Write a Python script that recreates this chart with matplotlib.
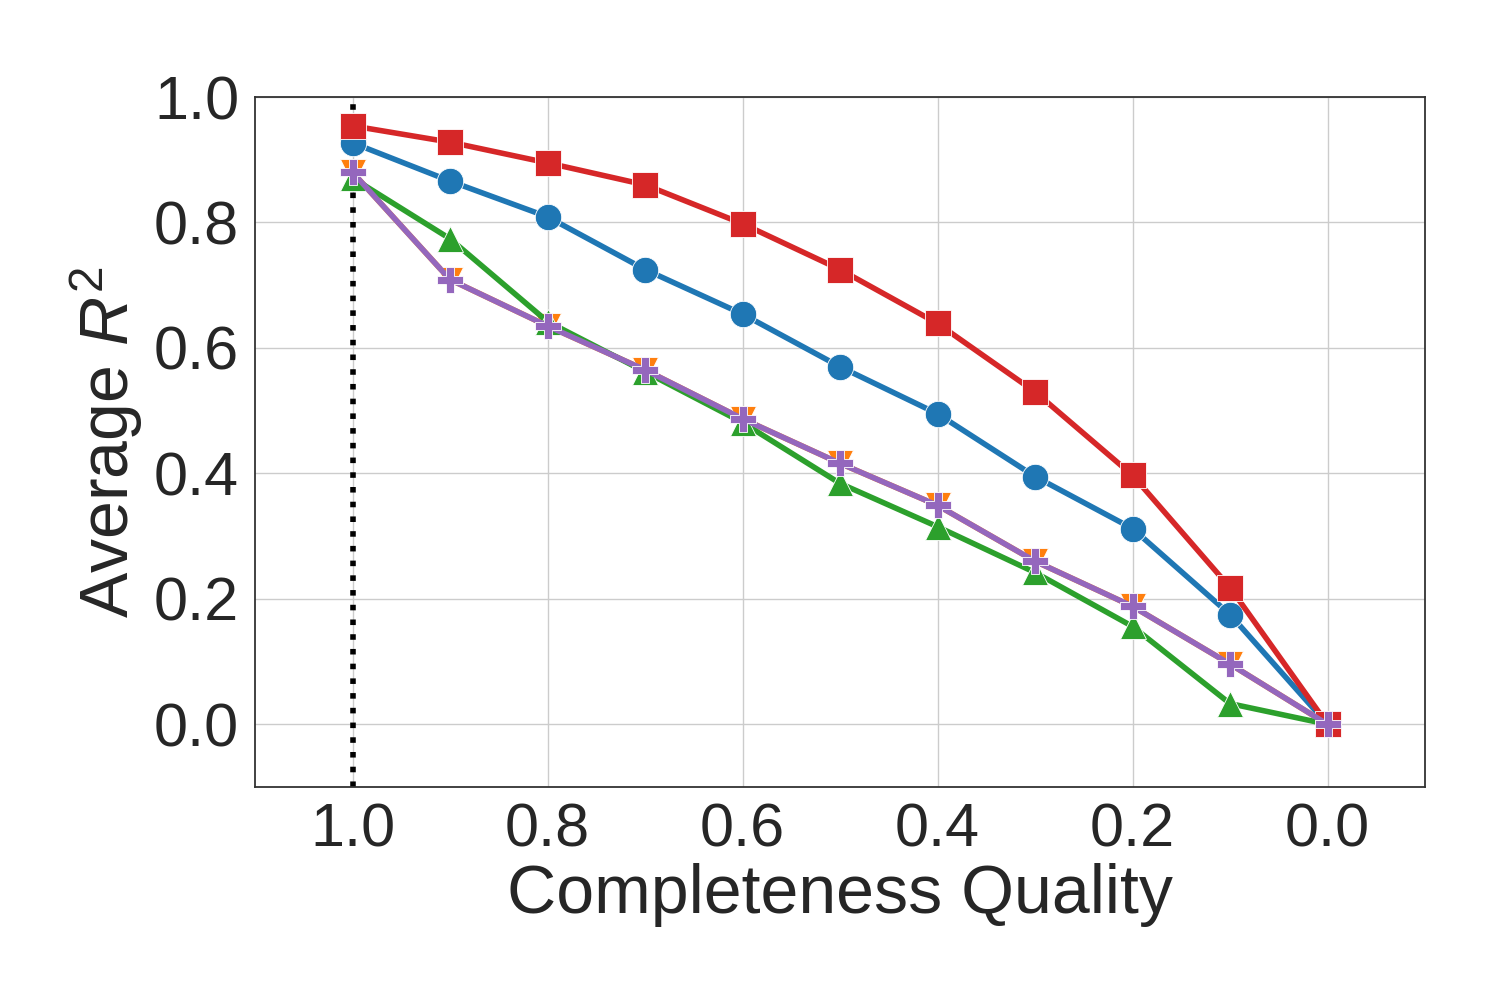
import matplotlib

matplotlib.use("Agg")
import matplotlib.pyplot as plt
import seaborn as sns

quality = [1.0, 0.9, 0.8, 0.7, 0.6, 0.5, 0.4, 0.3, 0.2, 0.1, 0.0]

blue_r2 = [0.927, 0.866, 0.809, 0.725, 0.654, 0.570, 0.495, 0.395, 0.312, 0.175, 0.0]
orange_r2 = [0.880, 0.709, 0.635, 0.565, 0.487, 0.416, 0.349, 0.260, 0.188, 0.096, 0.0]
green_r2 = [0.871, 0.774, 0.642, 0.562, 0.481, 0.384, 0.315, 0.242, 0.156, 0.033, 0.0]
red_r2 = [0.954, 0.928, 0.895, 0.860, 0.798, 0.725, 0.639, 0.530, 0.397, 0.218, 0.0]
purple_r2 = [0.880, 0.709, 0.635, 0.565, 0.487, 0.416, 0.349, 0.260, 0.188, 0.096, 0.0]

series = [
    (blue_r2, "#1f77b4", "o"),
    (orange_r2, "#ff7f0e", "v"),
    (green_r2, "#2ca02c", "^"),
    (red_r2, "#d62728", "s"),
    (purple_r2, "#9467bd", "P"),
]

sns.set_style("whitegrid")
plt.rcParams["font.family"] = ["Liberation Sans", "DejaVu Sans"]
plt.rcParams["text.color"] = "#262626"
plt.rcParams["axes.labelcolor"] = "#262626"
plt.rcParams["xtick.color"] = "#262626"
plt.rcParams["ytick.color"] = "#262626"
plt.rcParams["mathtext.fontset"] = "custom"
plt.rcParams["mathtext.rm"] = "Liberation Sans"
plt.rcParams["mathtext.it"] = "Liberation Sans:italic"

fig, ax = plt.subplots(figsize=(15, 10), dpi=100)
fig.subplots_adjust(left=0.17, right=0.95, top=0.903, bottom=0.213)

ax.axvline(1.0, color="black", linestyle=":", linewidth=4, zorder=1)

for values, color, marker in series:
    ax.plot(
        quality,
        values,
        color=color,
        marker=marker,
        linewidth=4,
        markersize=19,
        markeredgecolor="white",
        markeredgewidth=0.6,
        zorder=3,
    )

ax.set_xlim(1.1, -0.1)
ax.set_ylim(-0.1, 1.0)
ax.set_xticks([1.0, 0.8, 0.6, 0.4, 0.2, 0.0])
ax.set_yticks([0.0, 0.2, 0.4, 0.6, 0.8, 1.0])
ax.tick_params(axis="both", labelsize=44, pad=8)

ax.set_xlabel("Completeness Quality", fontsize=49, labelpad=2)
ax.set_ylabel("Average $R^2$", fontsize=49, labelpad=6)

ax.grid(True, color="#cccccc", linewidth=1.0)
for spine in ax.spines.values():
    spine.set_color("#333333")
    spine.set_linewidth(1.3)

fig.savefig("out.png", dpi=100)
plt.close(fig)
